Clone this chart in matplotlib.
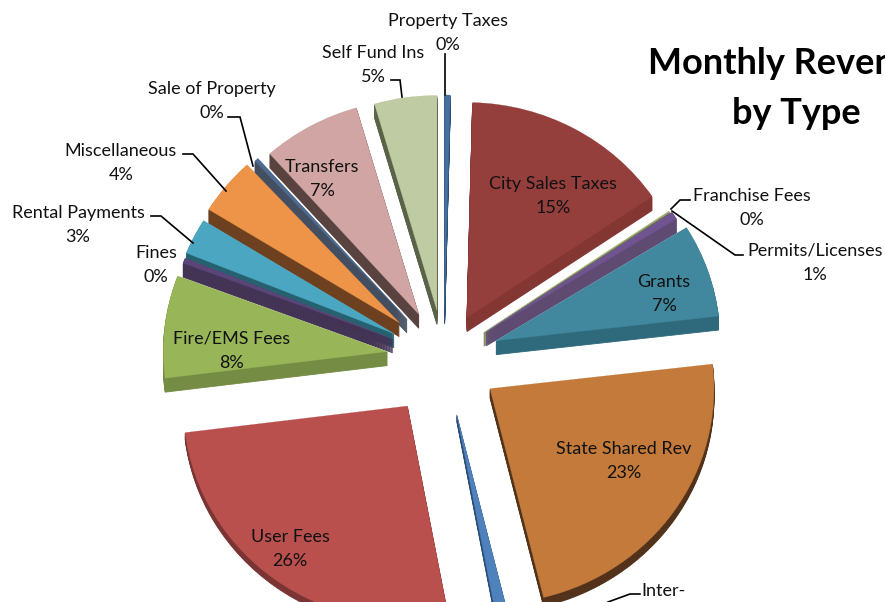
import matplotlib
matplotlib.use("Agg")
import matplotlib.pyplot as plt

# revenue share per type, clockwise from the top
categories = ["Property Taxes", "City Sales Taxes", "Franchise Fees", "Permits/Licenses", "Grants",
              "State Shared Rev", "Inter-", "User Fees", "Fire/EMS Fees", "Fines",
              "Rental Payments", "Miscellaneous", "Sale of Property", "Transfers", "Self Fund Ins"]
values = [0.4, 15.1, 0.1, 0.6, 7.0, 23.0, 0.9, 26.0, 7.7, 0.4, 2.7, 4.3, 0.3, 7.1, 4.5]
percent_labels = ["0%", "15%", "0%", "1%", "7%", "23%", "", "26%", "8%", "0%", "3%", "4%", "0%", "7%", "5%"]

face_colors = ["#44719F", "#953F3D", "#9FB070", "#6F5490", "#41889F", "#C47A3A", "#4F81BD", "#B9504E",
               "#98B658", "#5A4478", "#4BA7C1", "#EE9448", "#4E6A8E", "#D0A5A4", "#BECBA3"]
side_colors = ["#2C4D75", "#843633", "#6E7A4C", "#5F4A72", "#2F6A7C", "#52321A", "#2C4D75", "#7A3433",
               "#748C43", "#433355", "#26616F", "#6D4020", "#434E60", "#594341", "#5A6349"]
explode = [50, 48, 48, 50, 55, 56, 60, 62, 57, 55, 56, 58, 55, 52, 50]
depths = [14, 14, 14, 14, 14, 9, 7, 7, 14, 14, 14, 14, 14, 14, 14]

# pixel layout of the picture
WIDTH, HEIGHT = 885, 602
CX, CY = 444, 358
RADIUS = 224
SQUASH = 0.96

fig = plt.figure(figsize=(WIDTH / 100, HEIGHT / 100), dpi=100)
ax = fig.add_axes([0, 0, 1, 1])


def draw_pie(offset, colors, zorders, edge):
    wedges, _ = ax.pie(values, explode=explode, radius=RADIUS, center=(0, offset), startangle=-90,
                       colors=colors, wedgeprops={"linewidth": edge})
    for wedge, z, c in zip(wedges, zorders, colors):
        wedge.set_zorder(z)
        wedge.set_edgecolor(c)
    return wedges


# back slices first, so front ones cover them
order = [0, 1, 2, 3, 4, 14, 13, 12, 11, 10, 9, 8, 5, 6, 7]
rank = {i: r for r, i in enumerate(order)}
for d in range(max(depths), 0, -1):
    layer = draw_pie(d / SQUASH, side_colors, [rank[i] * 2 for i in range(len(values))], 0.6)
    for wedge, depth in zip(layer, depths):
        if d > depth:
            wedge.set_visible(False)
draw_pie(0, face_colors, [rank[i] * 2 + 1 for i in range(len(values))], 0.2)

ax.set_aspect("auto")
ax.set_xlim(-CX, WIDTH - CX)
ax.set_ylim((HEIGHT - CY) / SQUASH, -CY / SQUASH)

# overlay in pixels for labels and leader lines
top = fig.add_axes([0, 0, 1, 1], facecolor="none")
top.set_xlim(0, WIDTH)
top.set_ylim(HEIGHT, 0)
top.axis("off")

plt.rcParams["font.family"] = ["Lato", "DejaVu Sans"]

label_xy = [(448, 33), (553, 196), (752, 208), (815, 263), (664, 294), (624, 461), (664, 591), (290, 549),
            (232, 351), (156, 265), (78, 225), (121, 163), (212, 101), (322, 179), (373, 65)]
for name, pct, (x, y) in zip(categories, percent_labels, label_xy):
    text = name + "\n" + pct if pct else name
    top.text(x, y, text, ha="center", va="center", fontsize=13, color="#111111", linespacing=1.62, zorder=50)

leaders = [
    ([445, 445], [54, 95]),
    ([391, 400, 402], [80, 80, 97]),
    ([228, 240, 253], [117, 117, 166]),
    ([183, 193, 226], [154, 154, 191]),
    ([151, 161, 193], [216, 216, 243]),
    ([690, 680, 671], [200, 200, 209]),
    ([743, 735, 672], [255, 255, 211]),
    ([640, 630, 608], [594, 594, 602]),
]
for xs, ys in leaders:
    top.plot(xs, ys, color="black", linewidth=1.2, zorder=40, solid_joinstyle="miter")

top.text(791, 63, "Monthly Revenue", ha="center", va="center", fontsize=26, fontweight="bold", color="black")
top.text(796, 113, "by Type", ha="center", va="center", fontsize=26, fontweight="bold", color="black")

fig.savefig("out.png", dpi=100)
